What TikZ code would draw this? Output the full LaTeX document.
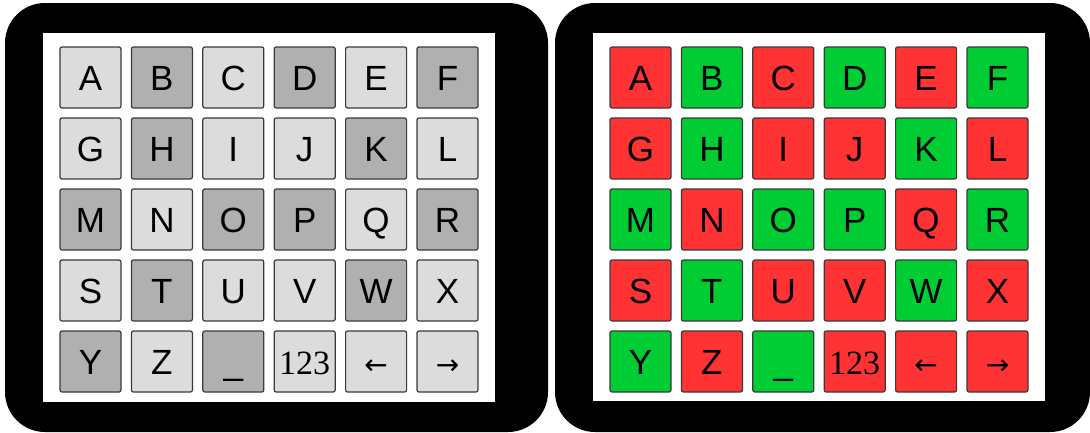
\documentclass[tikz,border=0pt]{standalone}
\usepackage{fontspec}
\setmainfont{Liberation Sans}
\newfontfamily\numfont{Liberation Serif}
\newfontfamily\arrowfont{DejaVu Sans}
\definecolor{lightkey}{HTML}{DCDCDC}
\definecolor{darkkey}{HTML}{B0B0B0}
\definecolor{redkey}{HTML}{FF3333}
\definecolor{greenkey}{HTML}{00CC33}
\definecolor{keyborder}{HTML}{3A3A3A}
\newcommand\numlabel{{\fontsize{34}{34}\selectfont\numfont 123}}
\newcommand\leftarr{{\fontsize{28}{28}\selectfont\arrowfont ←}}
\newcommand\rightarr{{\fontsize{28}{28}\selectfont\arrowfont →}}
\begin{document}
\begin{tikzpicture}[x=1pt,y=-1pt,
  panel/.style={fill=black, rounded corners=40pt},
  screen/.style={fill=white},
  key/.style={draw=keyborder, line width=1.2pt, rounded corners=2pt,
    minimum width=61pt, minimum height=61pt, inner sep=0pt,
    text height=25pt, text depth=0pt,
    font=\fontsize{35}{35}\selectfont}]
\useasboundingbox (0,0) rectangle (1090,432);
\fill[white] (0,0) rectangle (1090,432);
% panels
\fill[panel] (5,3) rectangle (548,432);
\fill[panel] (555,3) rectangle (1090,432);
\fill[screen] (43,33) rectangle (495,402);
\fill[screen] (593,33) rectangle (1045,401);
% keys
\foreach \lab/\dk [count=\i from 0] in {
  A/0,B/1,C/0,D/1,E/0,F/1,
  G/0,H/1,I/0,J/0,K/1,L/0,
  M/1,N/0,O/1,P/1,Q/0,R/1,
  S/0,T/1,U/0,V/0,W/1,X/0,
  Y/1,Z/0,\_/1,\numlabel/0,\leftarr/0,\rightarr/0}{
  \pgfmathtruncatemacro\col{mod(\i,6)}
  \pgfmathtruncatemacro\row{div(\i,6)}
  \pgfmathsetmacro\xl{90.5+71.4*\col}
  \pgfmathsetmacro\xr{640.5+71.4*\col}
  \pgfmathsetmacro\yy{77.5+71*\row}
  \ifnum\dk=1
    \node[key, fill=darkkey] (L-\row-\col) at (\xl,\yy) {\lab};
    \node[key, fill=greenkey] (R-\row-\col) at (\xr,\yy) {\lab};
  \else
    \node[key, fill=lightkey] (L-\row-\col) at (\xl,\yy) {\lab};
    \node[key, fill=redkey] (R-\row-\col) at (\xr,\yy) {\lab};
  \fi
}
\end{tikzpicture}
\end{document}
